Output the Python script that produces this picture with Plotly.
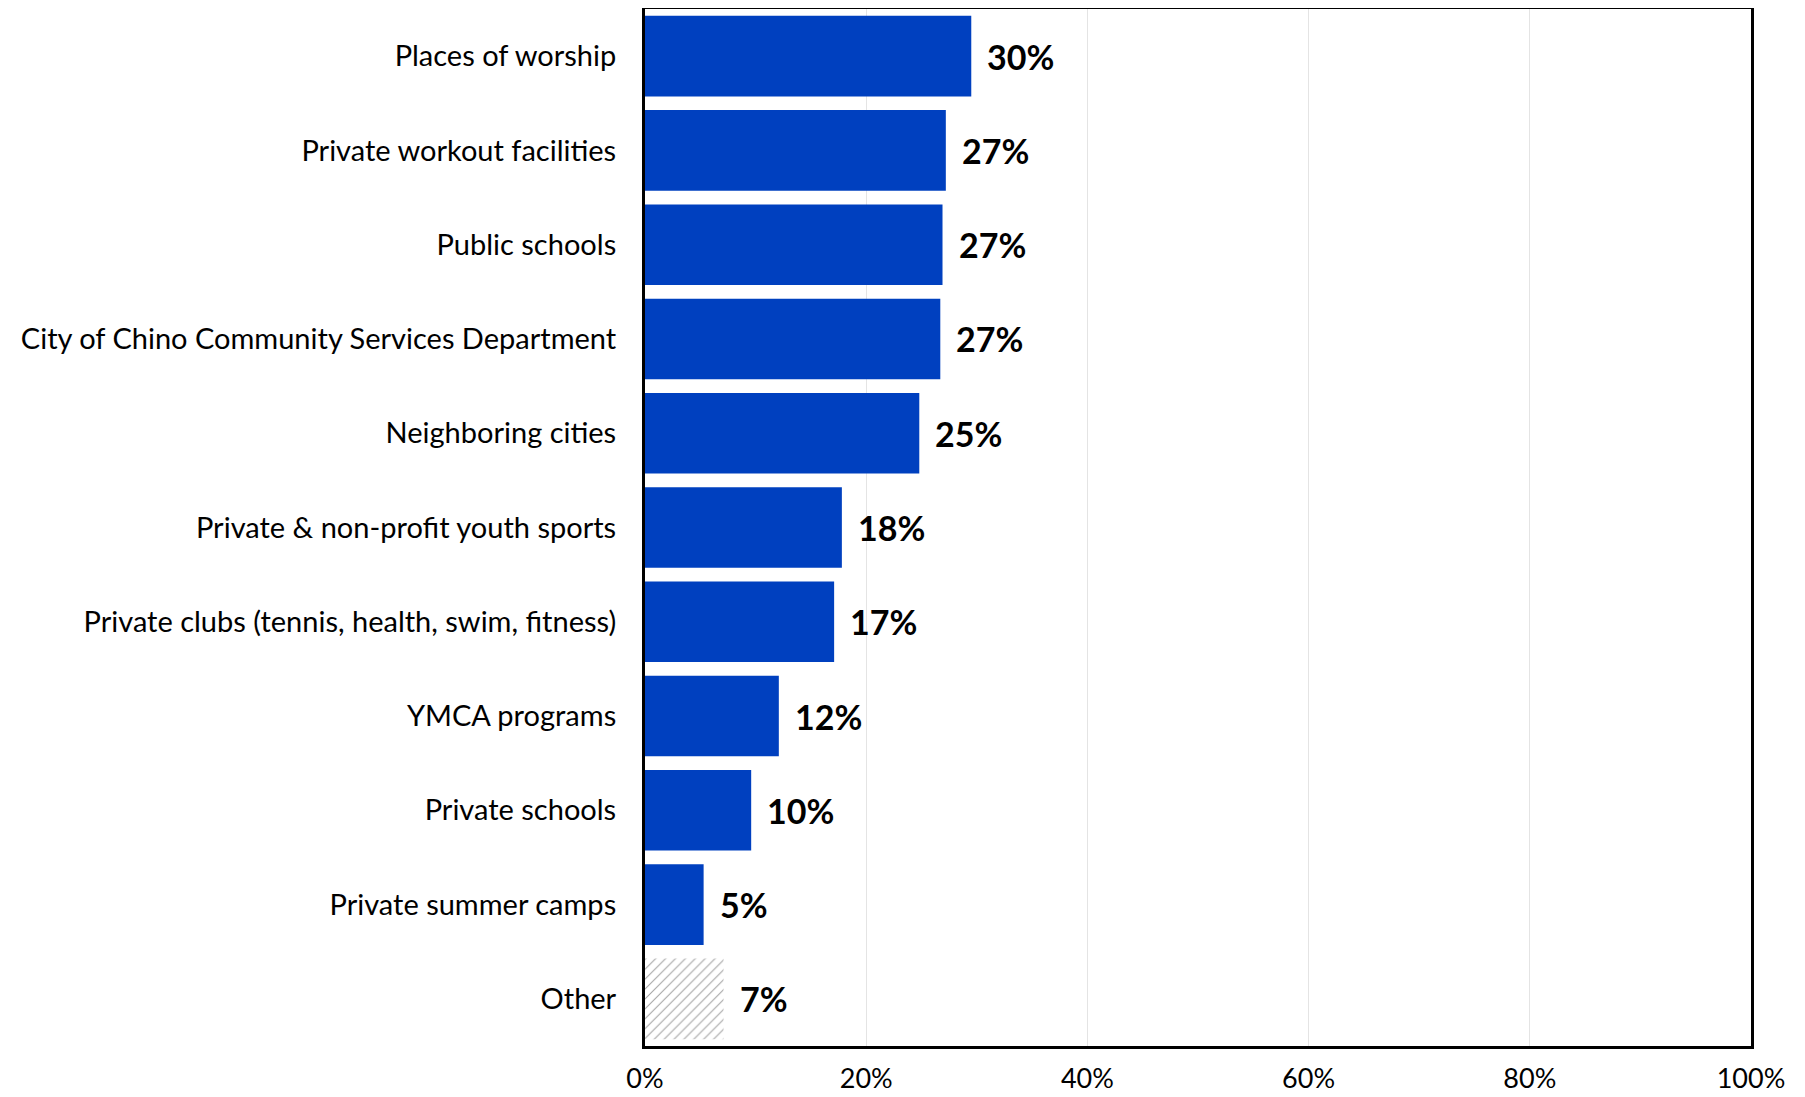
import plotly.graph_objects as go

categories = ["Places of worship", "Private workout facilities", "Public schools",
              "City of Chino Community Services Department", "Neighboring cities",
              "Private & non-profit youth sports", "Private clubs (tennis, health, swim, fitness)",
              "YMCA programs", "Private schools", "Private summer camps", "Other"]
values = [29.5, 27.2, 26.9, 26.7, 24.8, 17.8, 17.1, 12.1, 9.6, 5.3, 7.1]
labels = ["30%", "27%", "27%", "27%", "25%", "18%", "17%", "12%", "10%", "5%", "7%"]
tick_vals = [0, 20, 40, 60, 80, 100]
tick_text = ["0%", "20%", "40%", "60%", "80%", "100%"]

FONT = "Lato"
blue = "#0040BF"

colors = [blue] * (len(categories) - 1) + ["white"]
shapes = [""] * (len(categories) - 1) + ["/"]

fig = go.Figure()
fig.add_trace(go.Bar(
    y=categories, x=values, orientation="h",
    marker=dict(color=colors, line=dict(width=0),
                pattern=dict(shape=shapes, fgcolor="#9a9a9a", bgcolor="white",
                             size=7, solidity=0.15, fillmode="overlay")),
    width=0.855,
    hoverinfo="skip",
))

for c, v, t in zip(categories, values, labels):
    fig.add_annotation(x=v, y=c, text="<b>" + t + "</b>", showarrow=False,
                       xanchor="left", xshift=14, yshift=0,
                       font=dict(family=FONT, size=34, color="black"))

fig.update_layout(
    width=1789, height=1089,
    margin=dict(l=637, r=46, t=1, b=51, autoexpand=False),
    plot_bgcolor="white", paper_bgcolor="white",
    showlegend=False,
    font=dict(family=FONT, color="black"),
)
fig.update_xaxes(range=[0, 100], tickvals=tick_vals, ticktext=tick_text,
                 showgrid=True, gridcolor="#e4e4e4", gridwidth=1,
                 showline=True, linecolor="black", linewidth=3, mirror=True,
                 zeroline=False, ticks="", ticklabelstandoff=7, automargin=False,
                 tickfont=dict(family=FONT, size=27, color="black"))
fig.update_yaxes(categoryorder="array", categoryarray=categories[::-1],
                 range=[-0.5, len(categories) - 0.5],
                 showline=True, linecolor="black", linewidth=3, mirror=True,
                 ticks="", ticklabelstandoff=20, showgrid=False, automargin=False,
                 tickfont=dict(family=FONT, size=29, color="black"))

fig.write_html("out.html")
